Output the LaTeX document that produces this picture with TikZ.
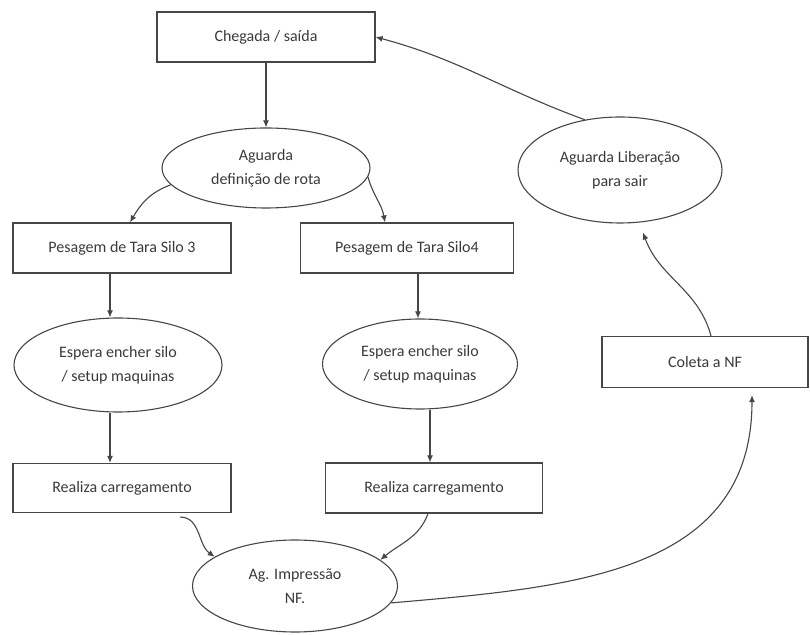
\documentclass[tikz,border=0pt]{standalone}
\usepackage{fontspec}
\setmainfont{Carlito}
\usetikzlibrary{
  arrows.meta,
  shapes.geometric
}
\definecolor{linegray}{RGB}{70,70,70}
\definecolor{textgray}{RGB}{58,58,58}

\begin{document}
\begin{tikzpicture}[x=1pt, y=1pt,
            box/.style={rectangle, draw=linegray, line width=1.1pt, text=textgray, font=\fontsize{16}{24}\selectfont, minimum width=218pt, minimum height=50pt, inner sep=0pt},
            wait/.style={ellipse, draw=linegray, line width=1.1pt, text=textgray, font=\fontsize{16}{24}\selectfont, align=center, inner sep=0pt},
            arr/.style={draw=linegray, line width=1.1pt, -{Latex[length=7pt,width=6pt]}}]
            \useasboundingbox (0,0) rectangle (810,634);
            \node [box] (chegada) at (266,597) {Chegada / saída};
            \node [wait, minimum width=208pt, minimum height=80pt] (rota) at (266,466) {Aguarda\\definição de rota};
            \node [box] (silo3) at (122,386) {Pesagem de Tara Silo 3};
            \node [box, minimum width=213pt] (silo4) at (407,386) {Pesagem de Tara Silo4};
            \node [wait, minimum width=208pt, minimum height=94pt] (espera3) at (118,269) {Espera encher silo\\/ setup maquinas};
            \node [wait, minimum width=195pt, minimum height=90pt] (espera4) at (420,270) {Espera encher silo\\/ setup maquinas};
            \node [box, minimum height=49pt] (realiza3) at (122,146) {Realiza carregamento};
            \node [box, minimum width=217pt] (realiza4) at (434,146) {Realiza carregamento};
            \node [wait, minimum width=205pt, minimum height=92pt] (impressao) at (295,48) {Ag. Impressão\\NF.};
            \node [box, minimum width=206pt, minimum height=51pt] (coleta) at (705,272) {Coleta a NF};
            \node [wait, minimum width=204pt, minimum height=106pt] (liberacao) at (620,464) {Aguarda Liberação\\para sair};

            \path [arr] (chegada) -- (rota);
            \path [arr] (rota.190) to[out=200,in=60] ([xshift=8pt]silo3.north);
            \path [arr] (rota.355) to[out=-75,in=100] ([xshift=-22pt]silo4.north);
            \path [arr] ([xshift=-12pt]silo3.south) -- ([xshift=-12pt]silo3.south |- espera3.north);
            \path [arr] ([xshift=-8pt]espera3.south) -- ([xshift=-8pt]espera3.south |- realiza3.north);
            \path [arr] ([xshift=11pt]silo4.south) -- ([xshift=11pt]silo4.south |- espera4.north);
            \path [arr] ([xshift=10pt]espera4.south) -- ([xshift=10pt]espera4.south |- realiza4.north);
            \path [arr] ([xshift=58pt,yshift=-4pt]realiza3.south) to[out=0,in=145] (impressao.160);
            \path [arr] ([xshift=-6pt]realiza4.south) to[out=-110,in=40] (impressao.17);
            \path [arr] (impressao.350) to[out=5,in=-90,looseness=1.1] ([xshift=47pt,yshift=-7pt]coleta.south);
            \path [arr] ([xshift=6pt]coleta.north) to[out=105,in=-70] ([xshift=23pt,yshift=-9pt]liberacao.south);
            \path [arr] (liberacao.125) to[out=160,in=-15] (chegada.east);
        \end{tikzpicture}
\end{document}
